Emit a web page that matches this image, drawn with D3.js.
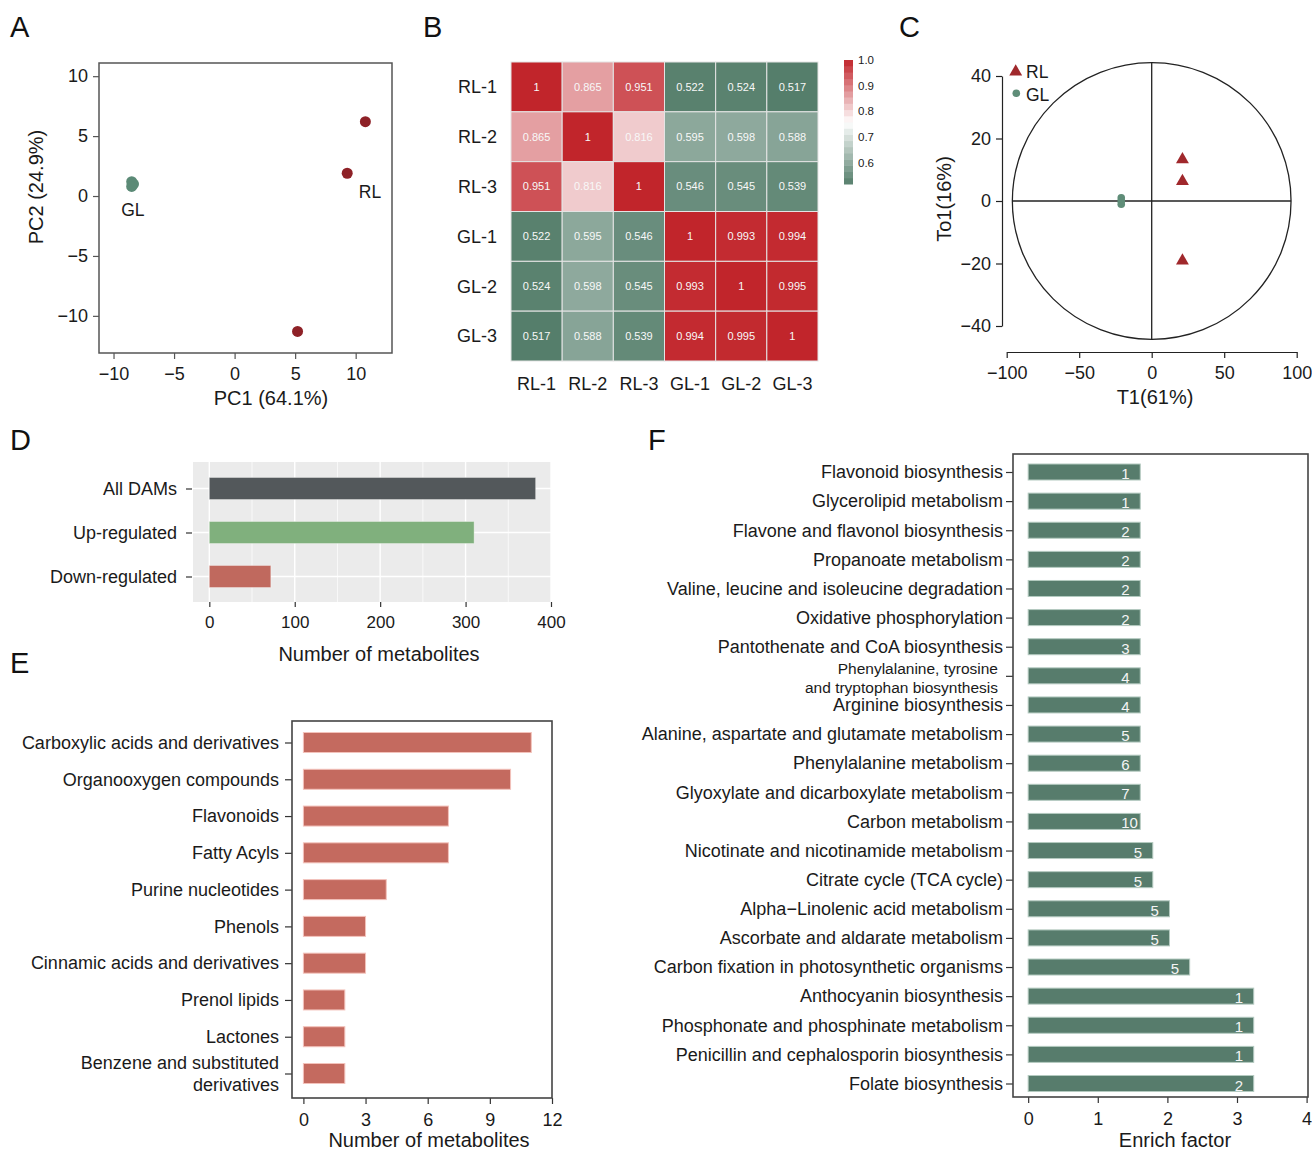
<!DOCTYPE html>
<html><head><meta charset="utf-8">
<script src="https://cdn.jsdelivr.net/npm/d3@7"></script>
<style>
body{margin:0;background:#fff;}
svg{display:block;font-family:"Liberation Sans",Arial,Helvetica,sans-serif;}
</style></head><body>
<svg id="fig" width="1312" height="1152"></svg>
<script>
// ---------- DATA ----------
// A: PCA scores
const pcaRL = [[10.8, 6.2], [9.3, 1.9], [5.2, -11.3]];
const pcaGL = [[-8.5, 1.2], [-8.35, 1.0], [-8.5, 0.8]];
const pcaTicks = [-10, -5, 0, 5, 10];
// B: correlation heatmap
const samples = ["RL-1", "RL-2", "RL-3", "GL-1", "GL-2", "GL-3"];
const corr = [
  [1, 0.865, 0.951, 0.522, 0.524, 0.517],
  [0.865, 1, 0.816, 0.595, 0.598, 0.588],
  [0.951, 0.816, 1, 0.546, 0.545, 0.539],
  [0.522, 0.595, 0.546, 1, 0.993, 0.994],
  [0.524, 0.598, 0.545, 0.993, 1, 0.995],
  [0.517, 0.588, 0.539, 0.994, 0.995, 1]
];
const legendTicks = [0.6, 0.7, 0.8, 0.9, 1.0];
// C: OPLS-DA scores
const oplsRL = [[21.2, 13.3], [21.2, 6.3], [21.2, -19.1]];
const oplsGL = [[-21, 1.0], [-21, 0.0], [-21, -1.0]];
const oplsXTicks = [-100, -50, 0, 50, 100];
const oplsYTicks = [-40, -20, 0, 20, 40];
const hotelling = [96.1, 44.3]; // ellipse semi-axes (T1, To1)
// D: DAM counts
const damCats = ["All DAMs", "Up-regulated", "Down-regulated"];
const damVals = [382, 310, 72];
const damTicks = [0, 100, 200, 300, 400];
// E: classes
const classCats = ["Carboxylic acids and derivatives", "Organooxygen compounds", "Flavonoids", "Fatty Acyls",
  "Purine nucleotides", "Phenols", "Cinnamic acids and derivatives", "Prenol lipids", "Lactones",
  "Benzene and substituted\nderivatives"];
const classVals = [11, 10, 7, 7, 4, 3, 3, 2, 2, 2];
const classTicks = [0, 3, 6, 9, 12];
// F: KEGG enrichment
const pathways = ["Flavonoid biosynthesis", "Glycerolipid metabolism", "Flavone and flavonol biosynthesis",
  "Propanoate metabolism", "Valine, leucine and isoleucine degradation", "Oxidative phosphorylation",
  "Pantothenate and CoA biosynthesis", "Phenylalanine, tyrosine\nand tryptophan biosynthesis",
  "Arginine biosynthesis", "Alanine, aspartate and glutamate metabolism", "Phenylalanine metabolism",
  "Glyoxylate and dicarboxylate metabolism", "Carbon metabolism", "Nicotinate and nicotinamide metabolism",
  "Citrate cycle (TCA cycle)", "Alpha\u2212Linolenic acid metabolism", "Ascorbate and aldarate metabolism",
  "Carbon fixation in photosynthetic organisms", "Anthocyanin biosynthesis",
  "Phosphonate and phosphinate metabolism", "Penicillin and cephalosporin biosynthesis", "Folate biosynthesis"];
const enrich = [1.61, 1.61, 1.61, 1.61, 1.61, 1.61, 1.61, 1.61, 1.61, 1.61, 1.61, 1.61, 1.61,
  1.79, 1.79, 2.03, 2.03, 2.32, 3.24, 3.24, 3.24, 3.24];
const counts = [1, 1, 2, 2, 2, 2, 3, 4, 4, 5, 6, 7, 10, 5, 5, 5, 5, 5, 1, 1, 1, 2];
const enrichTicks = [0, 1, 2, 3, 4];

// ---------- HELPERS ----------
const svg = d3.select("#fig");
const TXT = "#1a1a1a";
function styleAxis(g, fs, col) {
  g.attr("font-family", null).attr("font-size", null);
  g.selectAll("text").attr("font-size", fs).attr("fill", TXT);
  g.selectAll("line").attr("stroke", col || "#333").attr("stroke-width", 1.2);
  g.selectAll("path.domain").attr("stroke", col || "#333").attr("stroke-width", 1.2);
}
function label(t, x, y) {
  svg.append("text").attr("x", x).attr("y", y).attr("font-size", 29).attr("fill", "#111").text(t);
}
function title(t, x, y, rot) {
  const el = svg.append("text").attr("font-size", 20).attr("fill", TXT).attr("text-anchor", "middle").text(t);
  if (rot) el.attr("transform", `translate(${x},${y}) rotate(-90)`).attr("dy", "0.35em");
  else el.attr("x", x).attr("y", y);
}
function multiLabel(g, text, x, y, fs, lineH, shift) {
  const lines = text.split("\n");
  const t = g.append("text").attr("x", x).attr("y", y).attr("text-anchor", "end")
    .attr("font-size", fs).attr("fill", TXT);
  const off = -(lines.length - 1) * lineH / 2 + (shift || 0);
  lines.forEach((ln, i) => {
    t.append("tspan").attr("x", x).attr("y", y + off + i * lineH).attr("dy", "0.35em").text(ln);
  });
}

label("A", 10, 37); label("B", 423, 37); label("C", 899, 37);
label("D", 10, 450); label("E", 10, 673); label("F", 648, 450);

// ---------- PANEL A ----------
(function () {
  const x = d3.scaleLinear().domain([-11.2, 13.0]).range([99, 392]);
  const y = d3.scaleLinear().domain([-13.1, 11.1]).range([353, 63]);
  const g = svg.append("g");
  const ax = g.append("g").attr("transform", "translate(0,353)")
    .call(d3.axisBottom(x).tickValues(pcaTicks).tickSize(6).tickPadding(8).tickSizeOuter(0));
  ax.select(".domain").remove(); styleAxis(ax, 18, "#555");
  const ay = g.append("g").attr("transform", "translate(99,0)")
    .call(d3.axisLeft(y).tickValues(pcaTicks).tickSize(6).tickPadding(5).tickSizeOuter(0));
  ay.select(".domain").remove(); styleAxis(ay, 18, "#555");
  g.append("rect").attr("x", 99).attr("y", 63).attr("width", 293).attr("height", 290)
    .attr("fill", "none").attr("stroke", "#555").attr("stroke-width", 1.5);
  g.selectAll("circle.rl").data(pcaRL).join("circle").attr("class", "rl")
    .attr("cx", d => x(d[0])).attr("cy", d => y(d[1])).attr("r", 5.5).attr("fill", "#8e2127");
  g.selectAll("circle.gl").data(pcaGL).join("circle").attr("class", "gl")
    .attr("cx", d => x(d[0])).attr("cy", d => y(d[1])).attr("r", 5.5).attr("fill", "#5b8a76");
  g.append("text").attr("x", x(-8.4)).attr("y", 216).attr("text-anchor", "middle").attr("font-size", 17.5).attr("fill", TXT).text("GL");
  g.append("text").attr("x", 370).attr("y", 198).attr("text-anchor", "middle").attr("font-size", 17.5).attr("fill", TXT).text("RL");
  title("PC1 (64.1%)", 271, 405);
  title("PC2 (24.9%)", 36, 187, true);
})();

// ---------- PANEL B ----------
(function () {
  const x = d3.scaleBand().domain(samples).range([511, 818]);
  const y = d3.scaleBand().domain(samples).range([62, 361]);
  const lo = d3.min(corr.flat()), hi = d3.max(corr.flat());
  const col = d3.scaleLinear().domain([lo, (lo + hi) / 2, hi]).range(["#557e6b", "#ffffff", "#c1252b"]);
  const g = svg.append("g");
  const cells = [];
  corr.forEach((row, i) => row.forEach((v, j) => cells.push({ r: samples[i], c: samples[j], v })));
  g.selectAll("rect.cell").data(cells).join("rect").attr("class", "cell")
    .attr("x", d => x(d.c)).attr("y", d => y(d.r)).attr("width", x.bandwidth()).attr("height", y.bandwidth())
    .attr("fill", d => col(d.v)).attr("stroke", "#e4e4e4").attr("stroke-width", 1);
  g.selectAll("text.val").data(cells).join("text").attr("class", "val")
    .attr("x", d => x(d.c) + x.bandwidth() / 2).attr("y", d => y(d.r) + y.bandwidth() / 2)
    .attr("dy", "0.35em").attr("text-anchor", "middle").attr("font-size", 11).attr("fill", "#f8f8f8")
    .text(d => d.v === 1 ? "1" : String(d.v));
  g.selectAll("text.rowl").data(samples).join("text").attr("class", "rowl")
    .attr("x", 497).attr("y", d => y(d) + y.bandwidth() / 2).attr("dy", "0.35em")
    .attr("text-anchor", "end").attr("font-size", 18).attr("fill", TXT).text(d => d);
  g.selectAll("text.coll").data(samples).join("text").attr("class", "coll")
    .attr("x", d => x(d) + x.bandwidth() / 2).attr("y", 390)
    .attr("text-anchor", "middle").attr("font-size", 18).attr("fill", TXT).text(d => d);
  // colour bar
  const cy = d3.scaleLinear().domain([lo, hi]).range([184, 60]);
  const nStep = 20;
  const steps = d3.range(nStep).map(i => lo + (hi - lo) * i / nStep);
  const sh = (hi - lo) / nStep;
  g.selectAll("rect.cb").data(steps).join("rect").attr("class", "cb")
    .attr("x", 844).attr("width", 9).attr("y", d => cy(d + sh)).attr("height", d => cy(d) - cy(d + sh) + 0.5)
    .attr("fill", d => col(d + sh / 2));
  g.selectAll("text.cbl").data(legendTicks).join("text").attr("class", "cbl")
    .attr("x", 858).attr("y", d => cy(d)).attr("dy", "0.35em").attr("font-size", 11.5).attr("fill", TXT)
    .text(d => d3.format(".1f")(d));
})();

// ---------- PANEL C ----------
(function () {
  const x = d3.scaleLinear().domain([-100, 100]).range([1006.7, 1296.7]);
  const y = d3.scaleLinear().domain([-40, 40]).range([326, 76]);
  const g = svg.append("g");
  const ax = g.append("g").attr("transform", "translate(0,352)")
    .call(d3.axisBottom(x).tickValues(oplsXTicks).tickSize(6).tickPadding(8).tickSizeOuter(0));
  styleAxis(ax, 18, "#222");
  const ay = g.append("g").attr("transform", "translate(1002,0)")
    .call(d3.axisLeft(y).tickValues(oplsYTicks).tickSize(6).tickPadding(5).tickSizeOuter(0));
  styleAxis(ay, 18, "#222");
  g.append("ellipse").attr("cx", x(0)).attr("cy", y(0))
    .attr("rx", x(hotelling[0]) - x(0)).attr("ry", y(0) - y(hotelling[1]))
    .attr("fill", "none").attr("stroke", "#222").attr("stroke-width", 1.3);
  g.append("line").attr("x1", x(-hotelling[0])).attr("x2", x(hotelling[0])).attr("y1", y(0)).attr("y2", y(0))
    .attr("stroke", "#222").attr("stroke-width", 1.3);
  g.append("line").attr("x1", x(0)).attr("x2", x(0)).attr("y1", y(hotelling[1])).attr("y2", y(-hotelling[1]))
    .attr("stroke", "#222").attr("stroke-width", 1.3);
  const tri = d3.symbol(d3.symbolTriangle).size(72)();
  g.selectAll("path.rl").data(oplsRL).join("path").attr("class", "rl").attr("d", tri)
    .attr("transform", d => `translate(${x(d[0])},${y(d[1])})`).attr("fill", "#a0282c");
  g.selectAll("circle.gl").data(oplsGL).join("circle").attr("class", "gl")
    .attr("cx", d => x(d[0])).attr("cy", d => y(d[1])).attr("r", 3.8).attr("fill", "#5f8d78");
  // legend
  g.append("path").attr("d", tri).attr("transform", "translate(1015.7,71.7)").attr("fill", "#a0282c");
  g.append("text").attr("x", 1026).attr("y", 77.5).attr("font-size", 17.5).attr("fill", TXT).text("RL");
  g.append("circle").attr("cx", 1016.3).attr("cy", 93.3).attr("r", 3.8).attr("fill", "#5f8d78");
  g.append("text").attr("x", 1026).attr("y", 100.5).attr("font-size", 17.5).attr("fill", TXT).text("GL");
  title("T1(61%)", 1155, 404);
  title("To1(16%)", 944, 199, true);
})();

// ---------- PANEL D ----------
(function () {
  const x = d3.scaleLinear().domain([-19.1, 400]).range([193, 551]);
  const y = d3.scalePoint().domain(damCats).range([488.5, 576.5]);
  const colors = ["#53585b", "#80b07d", "#c0695e"];
  const g = svg.append("g");
  g.append("rect").attr("x", 193).attr("y", 462).attr("width", 358).attr("height", 140).attr("fill", "#ebebeb");
  const minor = [50, 150, 250, 350];
  g.selectAll("line.gmin").data(minor).join("line").attr("class", "gmin")
    .attr("x1", d => x(d)).attr("x2", d => x(d)).attr("y1", 462).attr("y2", 602)
    .attr("stroke", "#fff").attr("stroke-width", 0.7);
  g.selectAll("line.gmaj").data(damTicks).join("line").attr("class", "gmaj")
    .attr("x1", d => x(d)).attr("x2", d => x(d)).attr("y1", 462).attr("y2", 602)
    .attr("stroke", "#fff").attr("stroke-width", 1.4);
  g.selectAll("line.gh").data(damCats).join("line").attr("class", "gh")
    .attr("x1", 193).attr("x2", 551).attr("y1", d => y(d)).attr("y2", d => y(d))
    .attr("stroke", "#fff").attr("stroke-width", 1.4);
  g.selectAll("rect.bar").data(damCats).join("rect").attr("class", "bar")
    .attr("x", x(0)).attr("y", d => y(d) - 11).attr("height", 22)
    .attr("width", (d, i) => x(damVals[i]) - x(0)).attr("fill", (d, i) => colors[i])
    .attr("stroke", "#ffffff").attr("stroke-opacity", 0.35).attr("stroke-width", 1);
  const ay = g.append("g").attr("transform", "translate(192,0)")
    .call(d3.axisLeft(y).tickSize(6).tickPadding(9));
  ay.select(".domain").remove(); styleAxis(ay, 18, "#333");
  const ax = g.append("g").attr("transform", "translate(0,602)")
    .call(d3.axisBottom(x).tickValues(damTicks).tickSize(5).tickPadding(9));
  ax.select(".domain").remove(); styleAxis(ax, 17, "#333");
  title("Number of metabolites", 379, 661);
})();

// ---------- PANEL E ----------
(function () {
  const x = d3.scaleLinear().domain([-0.55, 12]).range([292, 552]);
  const y = d3.scalePoint().domain(classCats).range([742.5, 1073.5]);
  const g = svg.append("g");
  g.selectAll("rect.bar").data(classCats).join("rect").attr("class", "bar")
    .attr("x", x(0)).attr("y", d => y(d) - 10).attr("height", 20)
    .attr("width", (d, i) => x(classVals[i]) - x(0)).attr("fill", "#c46a5f")
    .attr("stroke", "#f3c2bb").attr("stroke-width", 1);
  const ay = g.append("g").attr("transform", "translate(292,0)")
    .call(d3.axisLeft(y).tickSize(7).tickFormat(""));
  ay.select(".domain").remove(); styleAxis(ay, 18, "#333");
  classCats.forEach(c => multiLabel(g, c, 279, y(c), 18, 22));
  const ax = g.append("g").attr("transform", "translate(0,1098)")
    .call(d3.axisBottom(x).tickValues(classTicks).tickSize(6).tickPadding(9));
  ax.select(".domain").remove(); styleAxis(ax, 18, "#333");
  g.append("rect").attr("x", 292).attr("y", 721).attr("width", 260).attr("height", 377)
    .attr("fill", "none").attr("stroke", "#444").attr("stroke-width", 1.6);
  title("Number of metabolites", 429, 1147);
})();

// ---------- PANEL F ----------
(function () {
  const x = d3.scaleLinear().domain([-0.218, 4.02]).range([1013, 1308]);
  const y = d3.scalePoint().domain(pathways).range([472, 1083.5]);
  const g = svg.append("g");
  g.selectAll("rect.bar").data(pathways).join("rect").attr("class", "bar")
    .attr("x", x(0)).attr("y", d => y(d) - 8).attr("height", 16)
    .attr("width", (d, i) => x(enrich[i]) - x(0)).attr("fill", "#577c6c")
    .attr("stroke", "#b4cac0").attr("stroke-width", 1);
  g.selectAll("text.cnt").data(pathways).join("text").attr("class", "cnt")
    .attr("x", (d, i) => x(enrich[i]) - 19).attr("y", d => y(d) + 1).attr("dy", "0.4em")
    .attr("font-size", 15).attr("fill", "#f4f4f4").text((d, i) => counts[i]);
  const ay = g.append("g").attr("transform", "translate(1013,0)")
    .call(d3.axisLeft(y).tickSize(7).tickFormat(""));
  ay.select(".domain").remove(); styleAxis(ay, 18, "#333");
  pathways.forEach(p => {
    if (p.includes("\n")) multiLabel(g, p, 998, y(p), 15.5, 19, 2);
    else multiLabel(g, p, 1003, y(p), 18, 20);
  });
  const ax = g.append("g").attr("transform", "translate(0,1097)")
    .call(d3.axisBottom(x).tickValues(enrichTicks).tickFormat(d3.format("d")).tickSize(6).tickPadding(9));
  ax.select(".domain").remove(); styleAxis(ax, 18, "#333");
  g.append("rect").attr("x", 1013).attr("y", 454).attr("width", 295).attr("height", 643)
    .attr("fill", "none").attr("stroke", "#444").attr("stroke-width", 1.6);
  title("Enrich factor", 1175, 1147);
})();
</script>
</body></html>
